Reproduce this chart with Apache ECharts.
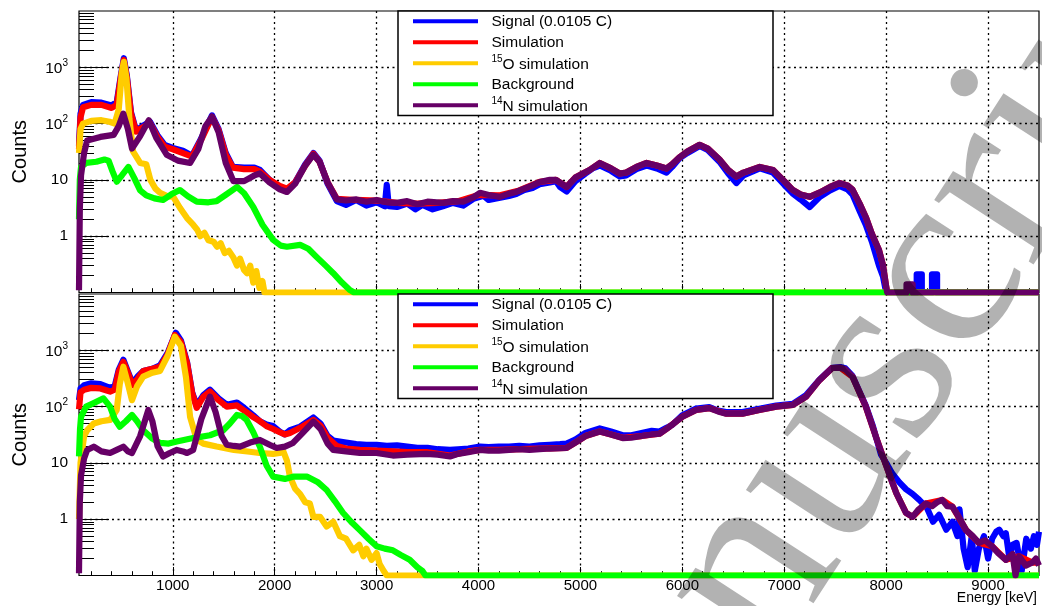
<!DOCTYPE html>
<html><head><meta charset="utf-8">
<script src="https://cdn.jsdelivr.net/npm/echarts@6/dist/echarts.min.js"></script>
<style>html,body{margin:0;padding:0;background:#fff}#c{width:1042px;height:606px}</style>
</head><body><div id="c"></div><script>
// ---------- data (keV, counts) ----------
const topSignal = [[80,40],[95,150],[120,215],[200,240],[300,235],[400,210],[450,240],[490,700],[520,1450],[550,700],[590,160],[640,75],[700,90],[777,108],[850,62],[920,42],[1000,37],[1100,33],[1190,27],[1280,55],[1385,140],[1450,80],[1520,30],[1590,17],[1700,16.5],[1800,16.5],[1855,15],[1950,10],[2050,7.5],[2120,6.5],[2200,9],[2300,19],[2380,30],[2440,22],[2520,8.5],[2610,4.2],[2700,3.6],[2800,4.4],[2900,3.5],[3000,4.0],[3080,3.4],[3100,8.2],[3120,3.4],[3200,3.3],[3300,3.8],[3380,3.0],[3450,3.6],[3550,3.0],[3650,3.4],[3750,3.9],[3850,3.5],[3950,4.6],[4050,5.2],[4100,4.4],[4200,4.8],[4300,5.2],[4370,5.6],[4450,6.6],[4530,7.2],[4600,8.4],[4700,9.0],[4760,9.5],[4800,7.5],[4865,6.2],[4950,9.5],[5050,13],[5120,16],[5190,18],[5300,14.5],[5385,11.5],[5450,12],[5550,15.5],[5650,18],[5750,16],[5845,13.5],[5900,17],[5970,24],[6050,30],[6170,40],[6250,34],[6365,21],[6450,13],[6530,8.8],[6600,12],[6760,16],[6890,13.5],[7000,8.2],[7080,5.8],[7160,4.5],[7250,3.3],[7350,5],[7450,6.5],[7540,7.8],[7620,6.8],[7670,5.5],[7740,2.8],[7800,1.6],[7860,0.8],[7930,0.3],[7970,0.19],[8000,0.1],[8300,0.1],[8300,0.21],[8350,0.21],[8350,0.1],[8450,0.1],[8450,0.21],[8500,0.21],[8500,0.1],[9500,0.1]];
const topSimulation = [[80,35],[95,130],[120,195],[200,215],[300,215],[400,190],[450,215],[490,650],[520,1350],[550,650],[590,150],[640,72],[700,85],[777,102],[850,58],[920,39],[1000,35],[1100,30],[1190,26],[1280,52],[1385,132],[1450,76],[1520,28],[1590,16.5],[1700,15.5],[1800,15.5],[1855,14],[1950,10],[2050,7.8],[2120,7],[2200,9],[2300,18],[2380,29],[2440,21],[2520,9],[2610,4.6],[2800,4.4],[3000,4.3],[3200,3.9],[3400,3.8],[3600,3.9],[3800,4.2],[4000,5.4],[4200,5.3],[4400,6.5],[4600,9.2],[4760,10],[4865,7.5],[4950,11],[5090,15],[5190,20],[5300,16],[5385,13],[5450,13.5],[5550,17],[5650,20],[5750,18],[5845,16],[5900,19],[5970,25],[6050,32],[6170,42],[6250,36],[6365,23],[6450,15],[6530,11.5],[6600,13.5],[6760,17],[6890,15],[7000,9.5],[7080,6.7],[7160,5.5],[7250,5],[7350,6],[7450,7.5],[7540,8.8],[7620,8],[7670,6.7],[7740,3.8],[7800,2.2],[7860,1.1],[7930,0.57],[7970,0.3],[8000,0.13],[8010,0.1],[9500,0.1]];
const topO15 = [[80,30],[95,80],[120,100],[200,112],[300,115],[380,108],[430,100],[470,180],[500,800],[520,1250],[545,650],[575,120],[610,32],[680,20],[740,19],[780,10],[830,7],[875,5.9],[940,5.2],[1005,5],[1070,3.2],[1140,2.1],[1200,1.6],[1240,1.3],[1270,1.0],[1310,1.15],[1350,0.85],[1400,0.8],[1435,0.65],[1470,0.75],[1510,0.5],[1550,0.55],[1595,0.42],[1630,0.3],[1660,0.4],[1700,0.25],[1730,0.22],[1760,0.3],[1790,0.15],[1820,0.24],[1850,0.12],[1880,0.16],[1900,0.1],[9500,0.1]];
const topBackground = [[80,2],[88,10],[100,17],[150,20],[250,21],[330,23],[370,22],[410,14],[450,9.3],[500,12],[565,17],[620,11],[680,6.5],[740,5.3],[820,4.7],[905,4.4],[990,5.6],[1070,6.6],[1150,5.1],[1235,4.1],[1350,4],[1430,4.2],[1530,5.6],[1630,7.5],[1700,5.8],[1790,3.3],[1880,1.6],[1985,0.86],[2060,0.68],[2120,0.65],[2250,0.7],[2330,0.6],[2410,0.43],[2500,0.3],[2575,0.22],[2660,0.15],[2740,0.11],[2780,0.1],[9500,0.1]];
const topN14 = [[80,0.11],[88,3],[100,12],[130,30],[160,50],[290,58],[420,63],[470,90],[515,150],[560,80],[600,36],[680,60],[765,115],[840,55],[940,28],[1050,22],[1170,20],[1250,35],[1320,90],[1385,132],[1450,70],[1520,20],[1595,9.5],[1700,9.5],[1800,12],[1855,13],[1950,9],[2050,6.8],[2120,6.1],[2200,8.5],[2300,18],[2380,28],[2440,21],[2520,9],[2610,4.5],[2700,4.3],[2800,4.5],[2900,4.1],[3000,4.4],[3100,4.0],[3200,3.9],[3300,4.2],[3400,3.7],[3500,4.1],[3650,3.9],[3750,4.2],[3850,4.1],[3950,4.9],[4015,5.9],[4100,5.4],[4210,5.0],[4300,5.7],[4370,6.1],[4450,7],[4530,8],[4600,9.2],[4700,10],[4760,10],[4865,7.5],[4950,11],[5090,15],[5190,20],[5300,16],[5385,13],[5450,13.5],[5550,17],[5650,20],[5750,18],[5845,16],[5900,19],[5970,25],[6050,32],[6170,42],[6250,36],[6365,23],[6450,15],[6530,11.5],[6600,13.5],[6760,17],[6890,15],[7000,9.5],[7080,6.7],[7160,5.5],[7250,5],[7350,6],[7450,7.5],[7540,8.8],[7620,8],[7670,6.7],[7740,3.8],[7800,2.2],[7860,1.1],[7930,0.57],[7970,0.3],[8000,0.13],[8010,0.1],[8200,0.1],[8200,0.14],[8260,0.14],[8260,0.1],[9500,0.1]];

const botSignal = [[80,130],[95,210],[130,240],[200,260],[290,250],[385,215],[430,230],[470,450],[515,680],[560,420],[605,260],[660,350],[710,430],[800,470],[875,540],[950,900],[1030,2050],[1080,1500],[1140,620],[1190,180],[1235,105],[1300,160],[1365,200],[1450,140],[1530,108],[1630,118],[1700,95],[1790,70],[1855,55],[1920,48],[1985,45],[2050,36],[2100,32],[2150,38],[2250,44],[2380,64],[2450,50],[2520,30],[2575,25],[2700,23],[2800,21.5],[2900,21],[3000,21],[3100,20],[3200,20.5],[3300,19.5],[3400,18.5],[3500,18.5],[3600,17.5],[3720,17],[3800,17.5],[3900,18],[4015,19.5],[4100,19],[4200,19.5],[4300,19.5],[4400,20],[4500,19.5],[4600,20.5],[4700,21],[4800,21.5],[4865,22],[4950,26],[5050,34],[5190,41],[5300,36],[5415,31],[5500,31],[5600,34],[5700,37],[5777,36],[5845,42],[5900,47],[6000,70],[6135,92],[6265,98],[6350,85],[6430,80],[6590,80],[6755,91],[6920,104],[7085,112],[7215,160],[7345,300],[7470,490],[7550,505],[7600,480],[7670,350],[7800,105],[7870,45],[7950,14],[8000,10],[8060,6.5],[8130,4.5],[8195,3.4],[8260,2.8],[8325,2.2],[8400,1.6],[8460,0.9],[8520,1.2],[8590,0.65],[8650,0.9],[8700,0.5],[8720,1.5],[8760,0.3],[8800,0.14],[8840,0.5],[8870,0.12],[8910,0.3],[8960,0.5],[9000,0.2],[9040,0.45],[9080,0.6],[9110,0.65],[9150,0.5],[9175,0.56],[9210,0.2],[9240,0.35],[9280,0.38],[9330,0.12],[9375,0.45],[9420,0.3],[9450,0.5],[9480,0.35],[9500,0.6]];
const botSimulation = [[80,90],[95,180],[130,200],[200,215],[290,210],[385,185],[430,200],[470,420],[515,625],[560,400],[605,240],[660,320],[710,430],[800,470],[875,510],[950,850],[1020,1870],[1080,1400],[1140,600],[1190,175],[1235,95],[1300,150],[1365,185],[1450,130],[1530,100],[1630,105],[1700,85],[1790,65],[1855,55],[1920,45],[1985,40],[2050,35],[2100,32],[2150,34],[2250,42],[2380,58],[2450,46],[2520,28],[2610,20],[2700,18],[2835,17],[3000,16.5],[3160,16],[3300,15.5],[3490,15.5],[3720,13.5],[3900,16],[4015,17],[4200,17],[4400,17.5],[4600,18],[4865,18.5],[4950,23],[5050,30],[5190,36],[5300,32],[5415,28],[5600,30],[5777,33],[5875,44],[6000,66],[6135,87],[6265,94],[6430,75],[6590,75],[6755,87],[6920,100],[7085,107],[7215,150],[7345,295],[7470,485],[7550,490],[7670,340],[7800,100],[7900,29],[8000,9],[8100,2.9],[8195,1.3],[8260,1.1],[8390,1.9],[8550,2.2],[8650,1.67],[8785,0.64],[8910,0.38],[9040,0.33],[9175,0.19],[9305,0.22],[9435,0.17],[9500,0.17]];
const botO15 = [[80,1],[95,10],[130,30],[160,38],[225,50],[300,55],[385,58],[450,87],[480,250],[515,510],[550,300],[600,130],[650,230],[710,340],[800,400],[875,430],[950,800],[1020,1740],[1080,1200],[1130,330],[1170,66],[1235,26],[1300,22],[1430,19.5],[1600,17],[1755,15.8],[1850,15],[1985,14.5],[2050,15],[2085,16],[2120,11],[2150,5.7],[2200,3.5],[2250,2.8],[2300,2.0],[2345,1.9],[2380,1.1],[2445,1.1],[2510,0.74],[2575,0.9],[2640,0.5],[2700,0.45],[2770,0.28],[2830,0.35],[2870,0.22],[2900,0.3],[2950,0.19],[3000,0.25],[3030,0.16],[3070,0.12],[3100,0.1],[9500,0.1]];
const botBackground = [[80,13],[90,40],[100,66],[150,100],[220,115],[320,140],[385,100],[430,60],[480,44],[540,55],[600,71],[650,55],[710,38],[800,27],[875,22.6],[960,22],[1040,24],[1200,27.6],[1365,31],[1495,38],[1560,50],[1630,71],[1680,68],[1725,58],[1790,35],[1855,19.4],[1920,9],[1985,5.7],[2100,5.2],[2180,5.7],[2320,5.7],[2420,4.6],[2510,3.3],[2590,2.1],[2670,1.3],[2750,0.9],[2835,0.64],[2920,0.45],[3000,0.33],[3080,0.3],[3160,0.28],[3240,0.23],[3325,0.19],[3400,0.14],[3450,0.12],[3480,0.1],[9500,0.1]];
const botN14 = [[80,0.11],[88,2],[100,6],[130,12],[160,17],[225,19.4],[300,16],[385,15],[450,17],[515,19.4],[560,16],[600,15],[680,30],[760,87],[800,55],[850,20],[905,13],[970,15],[1040,17],[1100,16],[1140,15],[1200,17],[1280,60],[1365,150],[1420,80],[1480,30],[1530,21],[1600,20],[1660,19.4],[1760,23],[1855,25.6],[1950,21],[2020,18.4],[2100,19.5],[2180,22.6],[2280,35],[2380,54],[2450,40],[2520,22],[2575,17],[2700,16],[2835,15],[3000,15],[3160,13.5],[3300,14],[3490,14.5],[3600,14],[3720,13],[3800,14.5],[3900,15.5],[4015,17],[4100,16.5],[4200,16.5],[4300,17],[4400,17.5],[4500,17],[4600,17.5],[4700,18],[4865,18.4],[4950,23],[5050,30],[5190,36],[5300,32],[5415,27.6],[5500,28],[5600,30],[5700,32],[5777,33],[5875,44],[6000,66],[6135,87],[6265,94],[6350,82],[6430,75],[6590,75],[6755,87],[6920,100],[7085,107],[7215,150],[7345,295],[7470,485],[7550,490],[7600,460],[7670,340],[7800,100],[7900,29],[8000,9],[8060,4.5],[8100,2.9],[8150,1.9],[8195,1.3],[8260,1.1],[8320,1.5],[8390,1.9],[8450,1.7],[8500,2.0],[8550,2.2],[8600,1.7],[8650,1.67],[8700,1.2],[8785,0.64],[8850,0.5],[8910,0.38],[8970,0.42],[9040,0.33],[9100,0.25],[9175,0.19],[9240,0.24],[9270,0.1],[9305,0.22],[9370,0.15],[9435,0.17],[9470,0.2],[9500,0.15]];

// ---------- labels & ticks ----------
const seriesNames = ['Signal (0.0105 C)', 'Simulation', '15O simulation', 'Background', '14N simulation'];
const legendSup = ['', '', '15', '', '14'];
const legendText = ['Signal (0.0105 C)', 'Simulation', 'O simulation', 'Background', 'N simulation'];
const seriesColors = ['#0000ff', '#ff0000', '#ffcc00', '#00ff00', '#660066'];
const xMajor = [1000,2000,3000,4000,5000,6000,7000,8000,9000];
const xMinor = [200,400,600,800,1200,1400,1600,1800,2200,2400,2600,2800,3200,3400,3600,3800,4200,4400,4600,4800,5200,5400,5600,5800,6200,6400,6600,6800,7200,7400,7600,7800,8200,8400,8600,8800,9200,9400];
const yMajor = [1,10,100,1000];
const yMinor = [0.2,0.3,0.4,0.5,0.6,0.7,0.8,0.9,2,3,4,5,6,7,8,9,20,30,40,50,60,70,80,90,200,300,400,500,600,700,800,900,2000,3000,4000,5000,6000,7000,8000,9000];
const yLabelText = {1:'{b|1}', 10:'{b|10}', 100:'{b|10}{s|2}', 1000:'{b|10}{s|3}'};

const FONT = '"Liberation Sans", Arial, Helvetica, sans-serif';
const panels = [
  {top: 11, data: [topSignal, topSimulation, topO15, topBackground, topN14]},
  {top: 294, data: [botSignal, botSimulation, botO15, botBackground, botN14]}
];
const PH = 281.5;

const grids = [], xAxes = [], yAxes = [], series = [], graphics = [];
const dotted = {color:'#000', type:[2,3.5], width:1.3};
panels.forEach((p, i) => {
  grids.push({left:79, right:3, top:p.top, height:PH, show:true, borderColor:'#000', borderWidth:1.2,
    backgroundColor:'transparent', containLabel:false, outerBoundsMode:'none'});
  xAxes.push({type:'value', gridIndex:i, min:80, max:9500, position:'bottom',
    axisLine:{show:false},
    axisTick:{show:true, inside:true, length:8.5, customValues:xMajor, lineStyle:{color:'#000', width:1}},
    axisLabel:{show:i===1, customValues:xMajor, fontSize:15, color:'#000', fontFamily:FONT, margin:3,
      formatter: v => String(Math.round(v))},
    splitLine:{show:true, lineStyle:dotted},
    name: i===1 ? 'Energy [keV]' : '', nameLocation:'end', nameGap:0, nameMoveOverlap:false,
    nameTextStyle:{fontSize:14, color:'#000', fontFamily:FONT, align:'right', verticalAlign:'top', padding:[16,2,0,0]}
  });
  xAxes.push({type:'value', gridIndex:i, min:80, max:9500, position:'bottom',
    axisLine:{show:false},
    axisTick:{show:true, inside:true, length:4.3, customValues:xMinor, lineStyle:{color:'#000', width:1}},
    axisLabel:{show:false}, splitLine:{show:false}});
  yAxes.push({type:'log', logBase:10, gridIndex:i, min:0.1, max:10000, position:'left',
    axisLine:{show:false},
    axisTick:{show:true, inside:true, length:30, customValues:yMajor, lineStyle:{color:'#000', width:1}},
    axisLabel:{customValues:yMajor, margin:11, color:'#000', fontFamily:FONT,
      formatter: v => yLabelText[Math.round(v)] || String(v),
      rich:{ b:{fontSize:15.5, fontFamily:FONT, color:'#000', verticalAlign:'bottom'},
             s:{fontSize:10, fontFamily:FONT, color:'#000', padding:[0,0,8,0]} } },
    splitLine:{show:true, lineStyle:dotted},
    name:'Counts', nameLocation:'middle', nameGap:49, nameRotate:90, nameMoveOverlap:false,
    nameTextStyle:{fontSize:20, color:'#000', fontFamily:FONT}
  });
  yAxes.push({type:'log', logBase:10, gridIndex:i, min:0.1, max:10000, position:'left', offset:0,
    axisLine:{show:false},
    axisTick:{show:true, inside:true, length:15, customValues:yMinor, lineStyle:{color:'#000', width:1}},
    axisLabel:{show:false}, splitLine:{show:false}});
  p.data.forEach((d, k) => {
    series.push({type:'line', name:seriesNames[k], xAxisIndex:2*i, yAxisIndex:2*i, data:d,
      showSymbol:false, symbol:'none', clip:true, z:2+k, animation:false,
      lineStyle:{color:seriesColors[k], width:6.2, join:'round'}, itemStyle:{color:seriesColors[k]}});
  });
  // legend box (ROOT style)
  const T = p.top;
  graphics.push({type:'rect', shape:{x:398, y:T, width:375, height:104.5}, z:50,
    style:{fill:'#fff', stroke:'#000', lineWidth:1.5}});
  for (let k = 0; k < 5; k++) {
    const ly = T + 10.3 + 21*k;
    graphics.push({type:'line', shape:{x1:413, y1:ly, x2:478, y2:ly}, z:51,
      style:{stroke:seriesColors[k], lineWidth:4}});
    const txt = (legendSup[k] ? '{s|' + legendSup[k] + '}' : '') + '{b|' + legendText[k] + '}';
    graphics.push({type:'text', x:491.5, y:ly, z:52,
      style:{text:txt, textAlign:'left', textVerticalAlign:'middle', align:'left', verticalAlign:'middle',
        rich:{ b:{fontSize:15.5, fontFamily:FONT, fill:'#000', color:'#000', verticalAlign:'bottom'},
               s:{fontSize:10, fontFamily:FONT, fill:'#000', color:'#000', padding:[0,0,8,0]} } }});
  }
});
// watermark
graphics.push({type:'text', x:529, y:917, rotation:57*Math.PI/180, z:100, silent:true,
  style:{text:'Manuscript', font:'258px "Liberation Serif", "DejaVu Serif", serif', fontSize:258, fontFamily:'"Liberation Serif", serif',
    fill:'rgba(0,0,0,0.3)', textAlign:'left', textVerticalAlign:'middle', align:'left', verticalAlign:'middle'}});

const chart = echarts.init(document.getElementById('c'), null, {renderer:'canvas'});
chart.setOption({
  animation:false,
  backgroundColor:'#fff',
  grid:grids, xAxis:xAxes, yAxis:yAxes, series:series,
  graphic:{elements:graphics}
});
</script></body></html>
